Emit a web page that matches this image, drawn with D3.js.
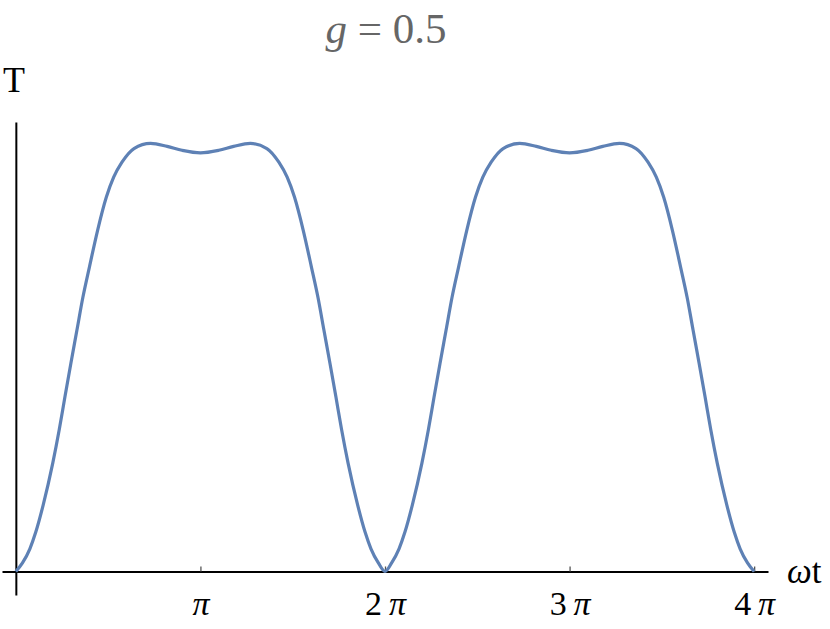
<!DOCTYPE html>
<html>
<head>
<meta charset="utf-8">
<style>
body { margin: 0; background: #fff; }
text { font-family: "Liberation Serif", "DejaVu Serif", serif; }
</style>
</head>
<body>
<svg width="830" height="629"></svg>
<script src="https://cdn.jsdelivr.net/npm/d3@7/dist/d3.min.js"></script>
<script>

// omega t in units of pi
var omegaT = [0, 0.036, 0.076, 0.108, 0.148, 0.2, 0.235, 0.266, 0.298, 0.331, 0.363, 0.398, 0.443, 0.49, 0.53, 0.575, 0.64, 0.73, 0.82, 0.9,
  1.0, 1.1, 1.18, 1.27, 1.36, 1.425, 1.47, 1.51, 1.557, 1.602, 1.637, 1.669, 1.702, 1.734, 1.765, 1.8, 1.852, 1.892, 1.924, 1.964,
  2.0, 2.036, 2.076, 2.108, 2.148, 2.2, 2.235, 2.266, 2.298, 2.331, 2.363, 2.398, 2.443, 2.49, 2.53, 2.575, 2.64, 2.73, 2.82, 2.9,
  3.0, 3.1, 3.18, 3.27, 3.36, 3.425, 3.47, 3.51, 3.557, 3.602, 3.637, 3.669, 3.702, 3.734, 3.765, 3.8, 3.852, 3.892, 3.924, 3.964, 4.0];
var T = [0, 0.02, 0.053, 0.092, 0.155, 0.253, 0.331, 0.408, 0.486, 0.564, 0.64, 0.71, 0.797, 0.874, 0.921, 0.956, 0.988, 1.0, 0.993, 0.984,
  0.978, 0.984, 0.993, 1.0, 0.988, 0.956, 0.921, 0.874, 0.797, 0.71, 0.64, 0.564, 0.486, 0.408, 0.331, 0.253, 0.155, 0.092, 0.053, 0.02,
  0, 0.02, 0.053, 0.092, 0.155, 0.253, 0.331, 0.408, 0.486, 0.564, 0.64, 0.71, 0.797, 0.874, 0.921, 0.956, 0.988, 1.0, 0.993, 0.984,
  0.978, 0.984, 0.993, 1.0, 0.988, 0.956, 0.921, 0.874, 0.797, 0.71, 0.64, 0.564, 0.486, 0.408, 0.331, 0.253, 0.155, 0.092, 0.053, 0.02, 0];
var xTicks = [1, 2, 3, 4];
var xTickLabels = ["", "2", "3", "4"];

var svg = d3.select("svg");

var x = d3.scaleLinear().domain([-0.075, 4.075]).range([2, 768]);
var y = d3.scaleLinear().domain([-0.055, 1.05]).range([595, 122]);

var points = omegaT.map(function(d, i) { return [d, T[i]]; });

// axes
var xAxis = svg.append("g")
  .attr("transform", "translate(0," + y(0) + ")")
  .call(d3.axisBottom(x)
    .tickValues(xTicks)
    .tickSizeInner(-5)
    .tickSizeOuter(0)
    .tickPadding(19)
    .tickFormat(""));
xAxis.select(".domain").attr("stroke", "#000").attr("stroke-width", 2);
xAxis.selectAll(".tick line").attr("stroke", "#555").attr("stroke-width", 1.3);
xAxis.selectAll(".tick text").each(function(d, i) {
  var t = d3.select(this)
    .attr("font-size", 34)
    .attr("fill", "#000")
    .attr("font-family", "Liberation Serif, serif");
  if (xTickLabels[i]) t.append("tspan").text(xTickLabels[i] + "\u2009");
  t.append("tspan").attr("font-style", "italic").text("\u03c0");
});

var yAxis = svg.append("g")
  .attr("transform", "translate(" + x(0) + ",0)")
  .call(d3.axisLeft(y).tickValues([]).tickSizeOuter(0));
yAxis.select(".domain").attr("stroke", "#000").attr("stroke-width", 2);

// curve
var line = d3.line()
  .x(function(d) { return x(d[0]); })
  .y(function(d) { return y(d[1]); })
  .curve(d3.curveMonotoneX);

svg.append("path")
  .datum(points)
  .attr("fill", "none")
  .attr("stroke", "#5E81B5")
  .attr("stroke-width", 3.2)
  .attr("d", line);

// labels
svg.append("text")
  .attr("x", 787)
  .attr("y", 583)
  .attr("font-size", 35)
  .attr("fill", "#000")
  .html('<tspan font-style="italic">\u03c9</tspan>t');

svg.append("text")
  .attr("x", 3)
  .attr("y", 92)
  .attr("font-size", 36)
  .attr("fill", "#000")
  .text("T");

svg.append("text")
  .attr("x", 386)
  .attr("y", 43)
  .attr("text-anchor", "middle")
  .attr("font-size", 43)
  .attr("fill", "#666")
  .html('<tspan font-style="italic">g</tspan> = 0.5');

</script>
</body>
</html>
